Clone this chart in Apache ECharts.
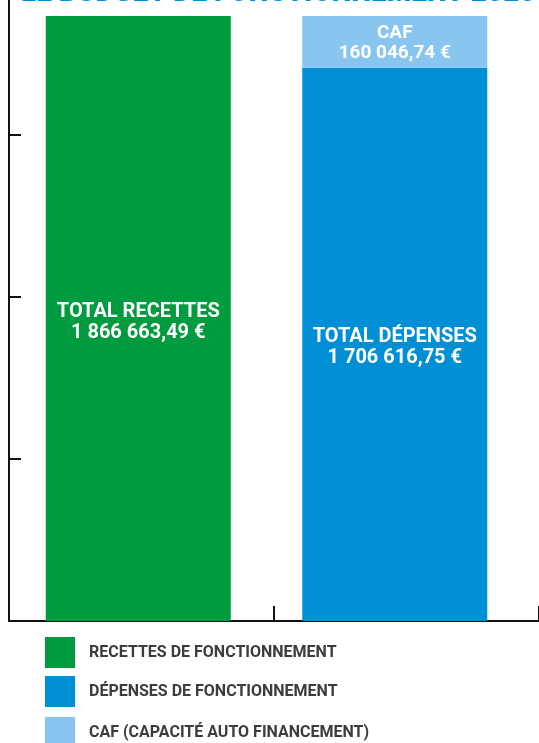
<!DOCTYPE html>
<html><head><meta charset="utf-8">
<script src="https://cdn.jsdelivr.net/npm/echarts@6/dist/echarts.min.js"></script>
<style>html,body{margin:0;padding:0;background:#fff}#c{width:539px;height:743px}</style>
</head><body><div id="c"></div>
<script>
const categories = ['Recettes', 'Dépenses'];
const recettes = [1866663.49, null];
const depenses = [null, 1706616.75];
const caf = [null, 160046.74];
const seriesNames = ['RECETTES DE FONCTIONNEMENT', 'DÉPENSES DE FONCTIONNEMENT', 'CAF (CAPACITÉ AUTO FINANCEMENT)'];
const barLabels = ['TOTAL RECETTES\n1 866 663,49 €', 'TOTAL DÉPENSES\n1 706 616,75 €', 'CAF\n160 046,74 €'];
const yTicks = [500000, 1000000, 1500000];
const colors = ['#009a3f', '#008fd5', '#88c6ef'];
const FONT = 'Roboto';

const chart = echarts.init(document.getElementById('c'));
const gridTop = 0, gridBottom = 122;
// axis top edge sits at the top of the picture
const yMax = 1866663.49 * 621 / 605;
const labelStyle = (txt, size, lh, dy) => ({
  show: true, position: 'inside', formatter: txt, color: '#fff', offset: [0, dy],
  fontFamily: FONT, fontWeight: 'bold', fontSize: size, lineHeight: lh
});
const legendTops = [637, 676, 717];
chart.setOption({
  animation: false,
  title: {
    text: 'LE BUDGET DE FONCTIONNEMENT 2020', left: 16, top: -16, padding: 5,
    textStyle: { color: '#0090d6', fontFamily: FONT, fontWeight: 900, fontSize: 28, lineHeight: 10 }
  },
  legend: seriesNames.map((n, i) => ({
    left: 45, top: legendTops[i], padding: 0, itemWidth: 30, itemHeight: 31,
    icon: 'rect', data: [n], selectedMode: false,
    textStyle: { color: '#3c3c3c', fontFamily: FONT, fontWeight: 'bold', fontSize: 16, padding: [0, 0, 0, 9] }
  })),
  grid: [
    { left: 9, right: -2, top: gridTop, bottom: gridBottom },
    { left: 10, right: 16, top: gridTop, bottom: gridBottom }
  ],
  xAxis: [
    { type: 'category', gridIndex: 0, data: categories,
      axisLine: { lineStyle: { color: '#111', width: 2 } },
      axisTick: { show: true, inside: true, length: 15, lineStyle: { color: '#111', width: 2 } },
      axisLabel: { show: false } },
    { type: 'category', gridIndex: 1, data: categories, show: false }
  ],
  yAxis: [
    { type: 'value', gridIndex: 0, min: 0, max: yMax,
      axisLine: { show: true, lineStyle: { color: '#111', width: 2 } },
      axisTick: { show: true, inside: true, length: 12, customValues: yTicks, lineStyle: { color: '#111', width: 2 } },
      axisLabel: { show: false, customValues: yTicks }, splitLine: { show: false } },
    { type: 'value', gridIndex: 1, min: 0, max: yMax, show: false, splitLine: { show: false } }
  ],
  series: [
    { name: seriesNames[0], type: 'bar', xAxisIndex: 1, yAxisIndex: 1, stack: 't', barWidth: 185,
      data: recettes, itemStyle: { color: colors[0] }, label: labelStyle(barLabels[0], 20, 21, 4) },
    { name: seriesNames[1], type: 'bar', xAxisIndex: 1, yAxisIndex: 1, stack: 't', barWidth: 185,
      data: depenses, itemStyle: { color: colors[1] }, label: labelStyle(barLabels[1], 20, 21, 3) },
    { name: seriesNames[2], type: 'bar', xAxisIndex: 1, yAxisIndex: 1, stack: 't', barWidth: 185,
      data: caf, itemStyle: { color: colors[2] }, label: labelStyle(barLabels[2], 19, 20, 1) }
  ]
});
</script></body></html>
